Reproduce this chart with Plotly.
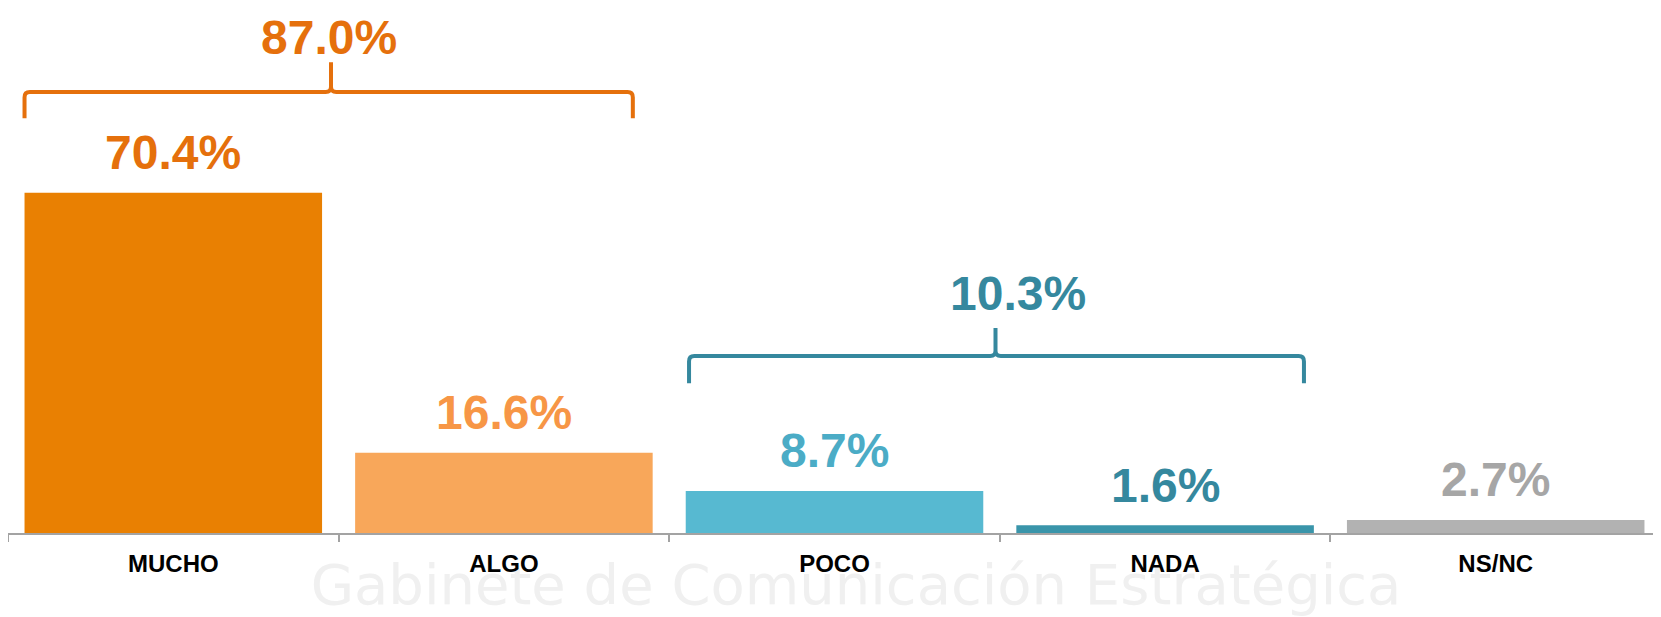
import plotly.graph_objects as go

# ---- data ----
categories = ["MUCHO", "ALGO", "POCO", "NADA", "NS/NC"]
values = [70.4, 16.6, 8.7, 1.6, 2.7]
bar_colors = ["#E98002", "#F8A75A", "#57B9D1", "#3A95AA", "#B2B2B2"]
label_colors = ["#E5700C", "#F79646", "#4BACC6", "#35889E", "#A6A6A6"]
groups = [[0, 1], [2, 3]]
group_colors = ["#E5700C", "#35889E"]

# ---- layout constants (page has an 8px body margin, so the figure is 8px smaller) ----
W, H = 1653, 609
ML, MR, MT, MB = 0, 0, 0, 84
YMAX = 108.6
FONT = "Liberation Sans, Arial, sans-serif"

fig = go.Figure()
fig.add_trace(go.Bar(
    x=categories, y=values,
    marker=dict(color=bar_colors, line=dict(width=0)),
    width=0.9, hoverinfo="skip", showlegend=False,
))

annotations = []
for i, (c, v) in enumerate(zip(categories, values)):
    annotations.append(dict(
        x=c, y=v, xref="x", yref="y", text=f"<b>{v:.1f}%</b>",
        showarrow=False, yanchor="middle", yshift=40,
        font=dict(family=FONT, size=48, color=label_colors[i]),
    ))

# braces (x in index units on an overlay linear axis, y in data units)
brace_geo = [
    dict(x0=-0.45, x1=1.39, xt=0.477, yl=91.2, ye=85.8, yt=97.4, lx=0.47, ly=102.4),
    dict(x0=1.56, x1=3.42, xt=2.487, yl=36.6, ye=31.0, yt=42.4, lx=2.555, ly=49.6),
]
shapes = []
dx, dy = 0.016, 1.1
for g, geo, col in zip(groups, brace_geo, group_colors):
    x0, x1, xt, yl, ye, yt = geo["x0"], geo["x1"], geo["xt"], geo["yl"], geo["ye"], geo["yt"]
    path = (f"M {x0},{ye} L {x0},{yl-dy} Q {x0},{yl} {x0+dx},{yl} "
            f"L {xt-dx},{yl} Q {xt},{yl} {xt},{yl+dy} L {xt},{yt} "
            f"M {xt},{yl+dy} Q {xt},{yl} {xt+dx},{yl} "
            f"L {x1-dx},{yl} Q {x1},{yl} {x1},{yl-dy} L {x1},{ye}")
    shapes.append(dict(type="path", path=path, xref="x2", yref="y",
                       line=dict(color=col, width=4), layer="above"))
    total = sum(values[k] for k in g)
    annotations.append(dict(
        x=geo["lx"], y=geo["ly"], xref="x2", yref="y", text=f"<b>{total:.1f}%</b>",
        showarrow=False, yanchor="middle",
        font=dict(family=FONT, size=48, color=col),
    ))

# faint watermark text behind the chart
shapes.append(dict(type="rect", xref="paper", yref="paper", x0=0.1, x1=0.926, y0=-0.14, y1=-0.04,
                   line=dict(width=0), fillcolor="rgba(0,0,0,0)", layer="below",
                   label=dict(text="Gabinete de Comunicación Estratégica",
                              font=dict(family="DejaVu Sans, sans-serif", size=56, color="#F0F0F0"),
                              textposition="middle center")))

fig.update_layout(
    width=W, height=H,
    margin=dict(l=ML, r=MR, t=MT, b=MB),
    paper_bgcolor="white", plot_bgcolor="rgba(0,0,0,0)",
    bargap=0.1,
    xaxis=dict(
        type="category", range=[-0.5, 4.5], automargin=False,
        showline=True, linecolor="#A3A3A3", linewidth=2,
        ticks="outside", tickson="boundaries", ticklen=7, tickwidth=1.5, tickcolor="#A3A3A3",
        tickfont=dict(family=FONT, size=24, color="black"),
        ticklabelstandoff=8,
        showgrid=False, zeroline=False, fixedrange=True,
        tickvals=categories, ticktext=[f"<b>{c}</b>" for c in categories],
    ),
    xaxis2=dict(overlaying="x", range=[-0.5, 4.5], visible=False, fixedrange=True),
    yaxis=dict(range=[0, YMAX], visible=False, showgrid=False, zeroline=False,
               fixedrange=True, automargin=False),
    shapes=shapes, annotations=annotations,
    showlegend=False,
)

fig.write_html("out.html")
